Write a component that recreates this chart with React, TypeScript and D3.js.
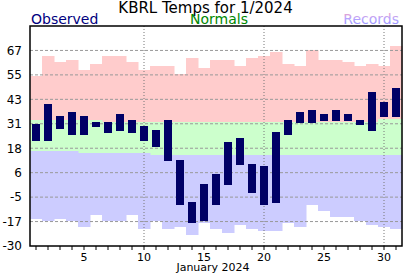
import React from 'react';
import * as d3 from 'd3';

const days = [1,2,3,4,5,6,7,8,9,10,11,12,13,14,15,16,17,18,19,20,21,22,23,24,25,26,27,28,29,30,31];
const obsHigh = [31,41,35,37,35,32,32,36,33,30,28,33,13,-8,1,6,22,24,11,10,27,33,37,38,36,38,36,33,47,42,49];
const obsLow = [22.5,22.5,28.5,25.5,25.5,29.5,26.5,27.5,26.5,22.5,19.5,12.5,-9.5,-18.5,-17.5,-9.5,0.5,10.5,-3.5,-9.5,-8.5,25.5,31.5,31.5,32.5,32.5,32.5,30.5,27.5,34.5,34.5];
const recHigh = [55,65,62,63,58,61,65,65,62,58,60,60,56,64,59,63,63,60,64,65,67,61,60,68,63,63,62,60,61,60,70];
const normHigh = [33,33,33,33,33,33,32,32,32,32,32,32,32,32,32,32,32,32,32,32,32,32,32,32,32,32,32,32,32,33.5,33.5];
const normLow = [17.5,17.5,17.5,17.5,16.5,16.5,16.5,16.5,16.5,16.5,15.5,15.5,15.5,15.5,15.5,15.5,15.5,15.5,15.5,15.5,15.5,15.5,15.5,15.5,15.5,15.5,15.5,15.5,15.5,15.5,15.5];
const recLow = [-16.5,-17.5,-16.5,-17.5,-20.5,-14.5,-17.5,-17.5,-14.5,-21.5,-17.5,-21.5,-20.5,-24.5,-18.5,-21.5,-23.5,-19.5,-21.5,-22.5,-22.5,-18.5,-20.5,-9.5,-12.5,-15.5,-15.5,-17.5,-19.5,-20.5,-21.5];

const yTickValues = [-30, -17.78, -5.56, 6.67, 18.89, 31.11, 43.33, 55.56, 67.78];
const yTickLabels = ['-30', '-17', '-5', '6', '18', '31', '43', '55', '67'];
const xLabelDays = [5, 10, 15, 20, 25, 30];
const xGridDays = [10, 20, 30];

const title = 'KBRL Temps for 1/2024';
const xTitle = 'January 2024';

const W = 412, H = 276;
const left = 30, right = 402, top = 26, bottom = 246;
const font = 'DejaVu Sans, Verdana, sans-serif';

export default function App() {
  const x = d3.scaleBand<number>().domain(days).range([left, right]).padding(0);
  const y = d3.scaleLinear().domain([-30, 80]).range([bottom, top]);
  const bw = x.bandwidth();
  const cx = (d: number) => (x(d) as number) + bw / 2;

  const band = (hi: number[], lo: number[], fill: string, key: string) =>
    days.map((d, i) => (
      <rect key={key + d} x={x(d)} width={bw + 0.5} y={y(hi[i])} height={Math.max(0, y(lo[i]) - y(hi[i]))} fill={fill} />
    ));

  return (
    <svg width={W} height={H} style={{ position: 'absolute', left: 0, top: 0, background: '#fff' }} fontFamily={font}>
      <defs>
        <linearGradient id="recGrad" x1="0" y1="0" x2="0" y2="1">
          <stop offset="0" stopColor="#ffa0b4" />
          <stop offset="0.45" stopColor="#b8a4ff" />
          <stop offset="1" stopColor="#8c8cff" />
        </linearGradient>
      </defs>
      <rect x={0} y={0} width={W} height={H} fill="#fff" />
      {band(recHigh, normHigh, '#ffcccc', 'rh')}
      {band(normHigh, normLow, '#ccffcc', 'n')}
      {band(normLow, recLow, '#ccccff', 'rl')}

      {yTickValues.slice(1).map((v) => (
        <line key={'g' + v} x1={left} x2={right} y1={y(v)} y2={y(v)} stroke="#999" strokeWidth={1} strokeDasharray="3,2" />
      ))}
      {xGridDays.map((d) => (
        <line key={'vg' + d} x1={cx(d)} x2={cx(d)} y1={top} y2={bottom} stroke="#777" strokeWidth={1} strokeDasharray="1,2" />
      ))}

      {days.map((d, i) => (
        <rect key={'b' + d} x={cx(d) - 4} width={8} y={y(obsHigh[i])} height={y(obsLow[i]) - y(obsHigh[i])} fill="#000066" />
      ))}

      <rect x={left} y={top} width={right - left} height={bottom - top} fill="none" stroke="#000" strokeWidth={1.5} />

      {days.map((d) => (
        <line key={'t' + d} x1={cx(d)} x2={cx(d)} y1={bottom} y2={bottom + 4} stroke="#000" strokeWidth={1} />
      ))}
      {xLabelDays.map((d) => (
        <text key={'xl' + d} x={cx(d)} y={261} fontSize={11} textAnchor="middle" fill="#000">{d}</text>
      ))}
      <text x={213} y={271} fontSize={11} textAnchor="middle" fill="#000">{xTitle}</text>

      {yTickValues.map((v, i) => (
        <text key={'yl' + v} x={22} y={y(v)} dy="0.36em" fontSize={12} textAnchor="end" fill="#000">{yTickLabels[i]}</text>
      ))}

      <text x={205.5} y={12.5} fontSize={15} textAnchor="middle" fill="#000">{title}</text>
      <text x={31} y={24} fontSize={14} textAnchor="start" fill="#000080">Observed</text>
      <text x={219} y={24} fontSize={14} textAnchor="middle" fill="#008800">Normals</text>
      <text x={399} y={24} fontSize={14} textAnchor="end" fill="url(#recGrad)">Records</text>
    </svg>
  );
}
